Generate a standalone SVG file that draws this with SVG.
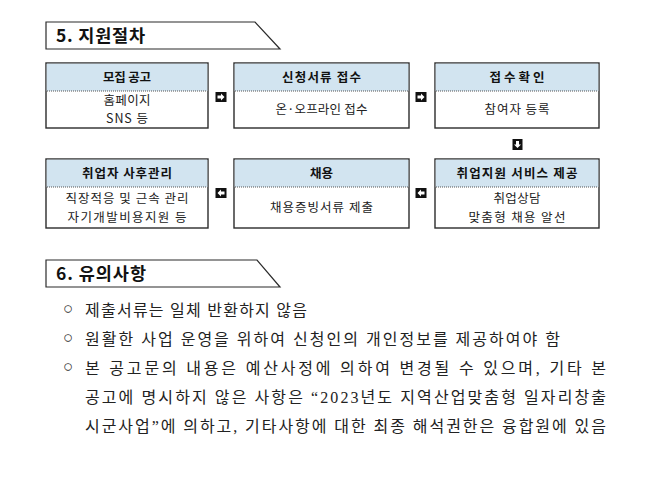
<svg xmlns="http://www.w3.org/2000/svg" width="649" height="495" viewBox="0 0 649 495">
<style>
.ttl{font-family:"Noto Sans CJK KR",sans-serif;font-weight:bold;font-size:17.5px;fill:#111}
.hd{font-family:"Noto Sans CJK KR",sans-serif;font-weight:bold;font-size:12.5px;fill:#111;text-anchor:middle}
.bd{font-family:"Noto Sans CJK KR",sans-serif;font-size:12.5px;fill:#222;text-anchor:middle}
.tx{font-family:"Liberation Serif","Noto Sans CJK KR",serif;font-size:16px;fill:#222}
.bul{font-family:"Liberation Sans",sans-serif;font-size:17px;fill:#333}
.box{fill:#fff;stroke:#2b2b2b;stroke-width:1.4}
.hdr{fill:#d2e4f0}
.dot{stroke:#555;stroke-width:1;stroke-dasharray:1 1}
.tab{fill:#fff;stroke:#2b2b2b;stroke-width:1.2}
</style>
<defs>
<g id="arrR"><rect x="-5.5" y="-5" width="11" height="10" fill="#111"/><path d="M-3.5,-1.5 H0 V-3.5 L3.5,0 L0,3.5 V1.5 H-3.5 Z" fill="#fff"/></g>
</defs>
<rect width="649" height="495" fill="#fff"/>

<g id="title5">
<polygon class="tab" points="46,22 255,22 280,49 46,49"/>
<text class="ttl" x="56" y="42" textLength="89" lengthAdjust="spacing">5. 지원절차</text>
</g>

<g id="n1">
<rect class="box" x="46" y="63" width="162" height="65"/>
<rect class="hdr" x="46.7" y="63.7" width="160.6" height="27.3"/>
<line class="dot" x1="47" y1="91" x2="207" y2="91"/>
<text class="hd" x="127" y="82" textLength="48" lengthAdjust="spacing">모집 공고</text>
<text class="bd" x="127" y="105" textLength="47" lengthAdjust="spacing">홈페이지</text>
<text class="bd" x="127" y="123" textLength="42" lengthAdjust="spacing">SNS 등</text>
</g>
<g id="n2">
<rect class="box" x="234" y="63" width="175" height="65"/>
<rect class="hdr" x="234.7" y="63.7" width="173.6" height="27.3"/>
<line class="dot" x1="235" y1="91" x2="408" y2="91"/>
<text class="hd" x="321.5" y="82" textLength="79" lengthAdjust="spacing">신청서류 접수</text>
<text class="bd" x="321.5" y="114" textLength="92" lengthAdjust="spacing">온·오프라인 접수</text>
</g>
<g id="n3">
<rect class="box" x="435" y="63" width="164" height="65"/>
<rect class="hdr" x="435.7" y="63.7" width="162.6" height="27.3"/>
<line class="dot" x1="436" y1="91" x2="598" y2="91"/>
<text class="hd" x="517" y="82" textLength="55" lengthAdjust="spacing">접수확인</text>
<text class="bd" x="517" y="114" textLength="65" lengthAdjust="spacing">참여자 등록</text>
</g>
<g id="n4">
<rect class="box" x="435" y="159" width="164" height="69"/>
<rect class="hdr" x="435.7" y="159.7" width="162.6" height="27.3"/>
<line class="dot" x1="436" y1="187" x2="598" y2="187"/>
<text class="hd" x="517" y="178" textLength="121" lengthAdjust="spacing">취업지원 서비스 제공</text>
<text class="bd" x="517" y="203" textLength="47" lengthAdjust="spacing">취업상담</text>
<text class="bd" x="517" y="222" textLength="97" lengthAdjust="spacing">맞춤형 채용 알선</text>
</g>
<g id="n5">
<rect class="box" x="234" y="159" width="175" height="69"/>
<rect class="hdr" x="234.7" y="159.7" width="173.6" height="27.3"/>
<line class="dot" x1="235" y1="187" x2="408" y2="187"/>
<text class="hd" x="321.5" y="178">채용</text>
<text class="bd" x="321.5" y="212" textLength="103" lengthAdjust="spacing">채용증빙서류 제출</text>
</g>
<g id="n6">
<rect class="box" x="46" y="159" width="162" height="69"/>
<rect class="hdr" x="46.7" y="159.7" width="160.6" height="27.3"/>
<line class="dot" x1="47" y1="187" x2="207" y2="187"/>
<text class="hd" x="127" y="178" textLength="90" lengthAdjust="spacing">취업자 사후관리</text>
<text class="bd" x="127" y="203" textLength="123" lengthAdjust="spacing">직장적응 및 근속 관리</text>
<text class="bd" x="127" y="222" textLength="119" lengthAdjust="spacing">자기개발비용지원 등</text>
</g>

<g id="connectors">
<use href="#arrR" transform="translate(221,97)"/>
<use href="#arrR" transform="translate(421,97)"/>
<use href="#arrR" transform="translate(517.5,144.5) rotate(90)"/>
<use href="#arrR" transform="translate(421,193) rotate(180)"/>
<use href="#arrR" transform="translate(221,193) rotate(180)"/>
</g>

<g id="title6">
<polygon class="tab" points="46,260 257,260 280,287 46,287"/>
<text class="ttl" x="56" y="280" textLength="90" lengthAdjust="spacing">6. 유의사항</text>
</g>

<g id="notes">
<text class="bul" x="63" y="314">○</text>
<text class="bul" x="63" y="343">○</text>
<text class="bul" x="63" y="372">○</text>
<text class="tx" x="85" y="316" textLength="222" lengthAdjust="spacing">제출서류는 일체 반환하지 않음</text>
<text class="tx" x="85" y="345" textLength="475" lengthAdjust="spacing">원활한 사업 운영을 위하여 신청인의 개인정보를 제공하여야 함</text>
<text class="tx" x="85" y="374" textLength="521" lengthAdjust="spacing">본 공고문의 내용은 예산사정에 의하여 변경될 수 있으며, 기타 본</text>
<text class="tx" x="85" y="403" textLength="521" lengthAdjust="spacing">공고에 명시하지 않은 사항은 “2023년도 지역산업맞춤형 일자리창출</text>
<text class="tx" x="85" y="432" textLength="521" lengthAdjust="spacing">시군사업”에 의하고, 기타사항에 대한 최종 해석권한은 융합원에 있음</text>
</g>
</svg>
